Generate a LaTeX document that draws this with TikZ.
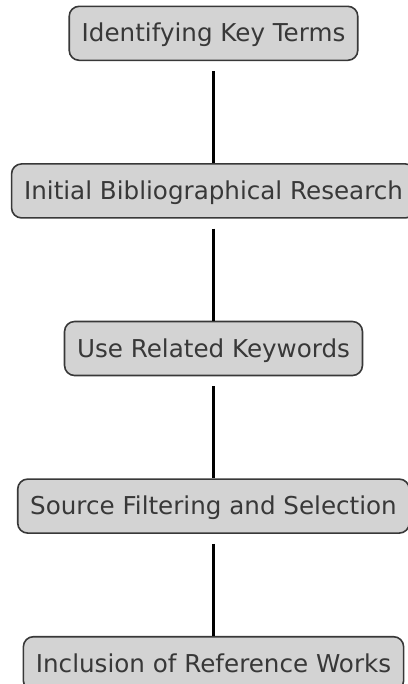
\documentclass[tikz,border=0pt]{standalone}
\usepackage{fontspec}
\setmainfont{DejaVu Sans}
\usetikzlibrary{matrix, positioning}
\definecolor{boxgray}{HTML}{D3D3D3}
\definecolor{inkgray}{HTML}{383838}
\tikzset{stepbox/.style={draw=inkgray, fill=boxgray, rounded corners=10bp,
    line width=1.6bp, text=inkgray, inner xsep=12.5bp, inner ysep=0pt,
    minimum height=54bp, text height=20bp, text depth=3bp,
    font=\fontsize{24.6bp}{29bp}\selectfont}}
\tikzset{link/.style={line width=3bp, black, shorten <=10bp}}

\begin{document}
\begin{tikzpicture}
    \useasboundingbox (0,0) rectangle (408bp,-684bp);
    \matrix (chart) at (213.5bp,-348.5bp) [%
      matrix of nodes,
      row sep=102bp,
      nodes={stepbox}
      ]
      {
        Identifying Key Terms
        \\
        Initial Bibliographical Research
        \\
        Use Related Keywords
        \\
        Source Filtering and Selection
        \\
        Inclusion of Reference Works
        \\
      };

      \foreach \a/\b in {1/2, 2/3, 3/4, 4/5}
        \draw[link] (chart-\a-1) -- (chart-\b-1);
  \end{tikzpicture}
\end{document}
